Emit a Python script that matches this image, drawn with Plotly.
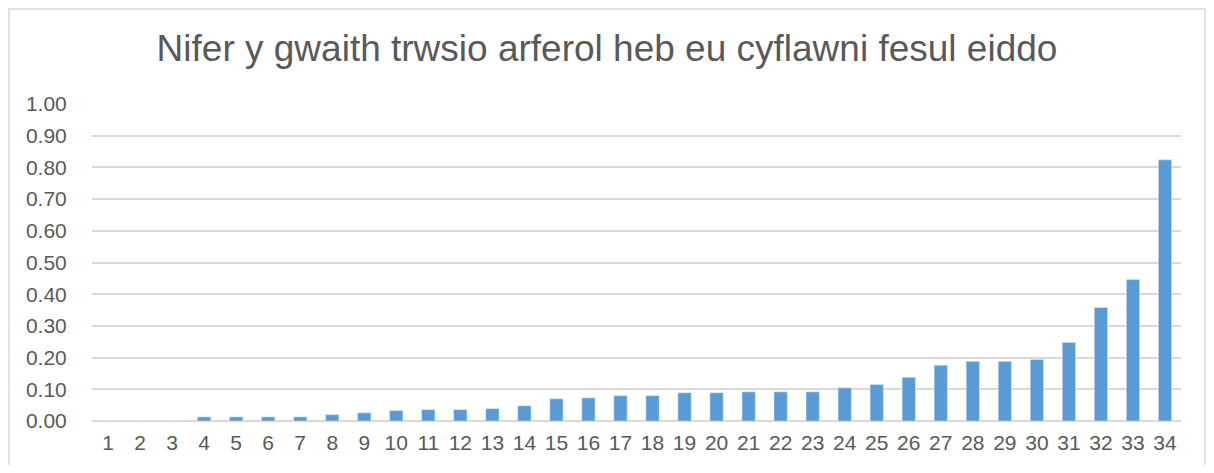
import plotly.graph_objects as go

# ===== Datos =====
categories = [str(i) for i in range(1, 35)]
values = [
    0.0, 0.0, 0.0, 0.013, 0.013, 0.013, 0.013, 0.02, 0.026, 0.033,
    0.036, 0.036, 0.039, 0.048, 0.07, 0.073, 0.08, 0.08, 0.089, 0.089,
    0.092, 0.092, 0.092, 0.105, 0.115, 0.138, 0.176, 0.188, 0.188, 0.194,
    0.248, 0.358, 0.446, 0.824,
]
y_ticks = [i / 10 for i in range(11)]

BAR_COLOR = "#5B9BD5"
TEXT_COLOR = "#595959"
GRID_COLOR = "#D9D9D9"
FONT = "Liberation Sans, Arial, sans-serif"

# la página añade 8px de margen, así que la figura es algo menor
W, H = 1198, 457
ML, MR, MT, MB = 84, 25, 96, 44

fig = go.Figure(go.Bar(x=categories, y=values, marker_color=BAR_COLOR, width=0.415))

fig.update_layout(
    width=W, height=H,
    margin=dict(l=ML, r=MR, t=MT, b=MB, autoexpand=False),
    paper_bgcolor="white", plot_bgcolor="white",
    font=dict(family=FONT, color=TEXT_COLOR, size=21),
    title=dict(text="Nifer y gwaith trwsio arferol heb eu cyflawni fesul eiddo",
               x=0.5, xanchor="center", y=1 - 40 / H, yanchor="middle",
               font=dict(size=37, color=TEXT_COLOR, family=FONT)),
    showlegend=False,
)
fig.update_xaxes(type="category", showgrid=False, showline=False, zeroline=False,
                 automargin=False,
                 ticks="outside", ticklen=3, tickcolor="rgba(0,0,0,0)",
                 tickfont=dict(size=21, color=TEXT_COLOR))
fig.update_yaxes(range=[0, 1.0], tickvals=y_ticks, tickformat=".2f",
                 automargin=False,
                 showgrid=True, gridcolor=GRID_COLOR, gridwidth=1.5,
                 zeroline=True, zerolinecolor=GRID_COLOR, zerolinewidth=1.5,
                 showline=False, ticks="outside", ticklen=20, tickcolor="rgba(0,0,0,0)",
                 tickfont=dict(size=21, color=TEXT_COLOR))

# marco del gráfico
pw, ph = W - ML - MR, H - MT - MB
fig.add_shape(type="rect", xref="paper", yref="paper",
              x0=(1 - ML) / pw, x1=(W - 1 - ML) / pw,
              y0=-0.5, y1=(ph + MT - 1) / ph,
              line=dict(color=GRID_COLOR, width=1.5), fillcolor="rgba(0,0,0,0)", layer="below")

fig.write_html("out.html")
